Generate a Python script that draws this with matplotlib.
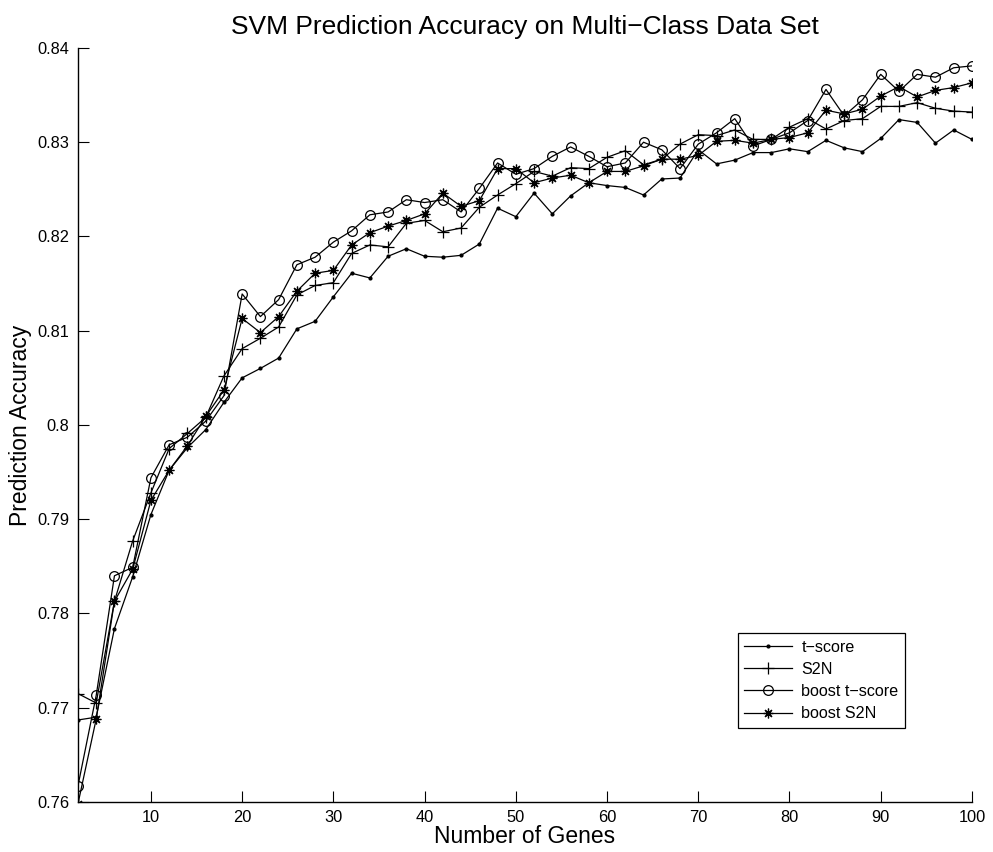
import matplotlib
matplotlib.use("Agg")
import matplotlib.pyplot as plt
import numpy as np

plt.rcParams['font.family'] = ['Liberation Sans', 'DejaVu Sans']

genes = list(range(2, 101, 2))

t_score = [0.7687, 0.7690, 0.7784, 0.7839, 0.7905, 0.7952, 0.7976, 0.7995, 0.8024, 0.8050,
           0.8060, 0.8071, 0.8102, 0.8110, 0.8136, 0.8161, 0.8156, 0.8179, 0.8187, 0.8179,
           0.8178, 0.8180, 0.8192, 0.8230, 0.8221, 0.8246, 0.8224, 0.8243, 0.8257, 0.8254,
           0.8252, 0.8244, 0.8261, 0.8262, 0.8292, 0.8277, 0.8281, 0.8289, 0.8289, 0.8293,
           0.8290, 0.8302, 0.8294, 0.8290, 0.8304, 0.8324, 0.8321, 0.8299, 0.8313, 0.8303]

s2n = [0.7715, 0.7705, 0.7813, 0.7877, 0.7928, 0.7975, 0.7991, 0.8008, 0.8052, 0.8081,
       0.8092, 0.8104, 0.8138, 0.8148, 0.8151, 0.8182, 0.8191, 0.8189, 0.8214, 0.8217,
       0.8205, 0.8209, 0.8231, 0.8244, 0.8256, 0.8269, 0.8264, 0.8273, 0.8272, 0.8284,
       0.8291, 0.8276, 0.8282, 0.8298, 0.8308, 0.8307, 0.8313, 0.8303, 0.8303, 0.8316,
       0.8325, 0.8314, 0.8323, 0.8325, 0.8338, 0.8338, 0.8342, 0.8336, 0.8333, 0.8332]

boost_t_score = [0.7617, 0.7713, 0.7840, 0.7849, 0.7944, 0.7979, 0.7987, 0.8004, 0.8031, 0.8139,
                 0.8115, 0.8133, 0.8170, 0.8178, 0.8194, 0.8206, 0.8223, 0.8226, 0.8239, 0.8236,
                 0.8239, 0.8226, 0.8251, 0.8278, 0.8266, 0.8272, 0.8285, 0.8295, 0.8285, 0.8274,
                 0.8278, 0.8300, 0.8292, 0.8272, 0.8298, 0.8310, 0.8325, 0.8296, 0.8303, 0.8310,
                 0.8323, 0.8356, 0.8328, 0.8345, 0.8372, 0.8354, 0.8372, 0.8369, 0.8379, 0.8381]

boost_s2n = [0.7598, 0.7688, 0.7813, 0.7847, 0.7920, 0.7952, 0.7978, 0.8009, 0.8037, 0.8113,
             0.8098, 0.8115, 0.8142, 0.8161, 0.8164, 0.8191, 0.8204, 0.8211, 0.8217, 0.8224,
             0.8246, 0.8232, 0.8238, 0.8272, 0.8272, 0.8257, 0.8262, 0.8265, 0.8257, 0.8269,
             0.8269, 0.8275, 0.8282, 0.8282, 0.8286, 0.8301, 0.8302, 0.8299, 0.8303, 0.8305,
             0.8310, 0.8334, 0.8330, 0.8335, 0.8349, 0.8359, 0.8348, 0.8355, 0.8358, 0.8363]

x_ticks = [10, 20, 30, 40, 50, 60, 70, 80, 90, 100]
y_ticks = [0.76, 0.77, 0.78, 0.79, 0.80, 0.81, 0.82, 0.83, 0.84]
y_tick_labels = ['0.76', '0.77', '0.78', '0.79', '0.8', '0.81', '0.82', '0.83', '0.84']

fig = plt.figure(figsize=(9.93, 8.52), dpi=100)
ax = fig.add_axes([0.0785, 0.0587, 0.9003, 0.885])

lw = 0.9
asterisk = (8, 2, 0)  # eight-armed asterisk (plus and cross combined)
ax.plot(genes, t_score, '-', color='black', lw=lw, marker='.', markersize=4, label='t\u2212score')
ax.plot(genes, s2n, '-', color='black', lw=lw, marker='+', markersize=9, markeredgewidth=0.9,
        label='S2N')
ax.plot(genes, boost_t_score, '-', color='black', lw=lw, marker='o', markersize=7,
        markerfacecolor='none', markeredgewidth=0.9, label='boost t\u2212score')
ax.plot(genes, boost_s2n, '-', color='black', lw=lw, marker=asterisk, markersize=7,
        markeredgewidth=0.9, label='boost S2N')

ax.set_xlim(2, 100)
ax.set_ylim(0.76, 0.84)
ax.set_xticks(x_ticks)
ax.set_yticks(y_ticks)
ax.set_yticklabels(y_tick_labels)

for side in ('top', 'right'):
    ax.spines[side].set_visible(False)
for side in ('left', 'bottom'):
    ax.spines[side].set_linewidth(1.0)
ax.tick_params(direction='in', length=8, width=0.8, labelsize=11.8, pad=6,
               top=False, right=False)

ax.set_title('SVM Prediction Accuracy on Multi\u2212Class Data Set', fontsize=19, pad=10)
ax.set_xlabel('Number of Genes', fontsize=16.5, labelpad=0)
ax.set_ylabel('Prediction Accuracy', fontsize=16.5, labelpad=4)

leg = ax.legend(loc='upper left', bbox_to_anchor=(0.738, 0.224), fontsize=11.6,
                frameon=True, fancybox=False, edgecolor='black', framealpha=1,
                handlelength=3.0, borderpad=0.4, labelspacing=0.45, handletextpad=0.55,
                borderaxespad=0)
leg.get_frame().set_linewidth(0.9)

fig.savefig('out.png', dpi=100)
